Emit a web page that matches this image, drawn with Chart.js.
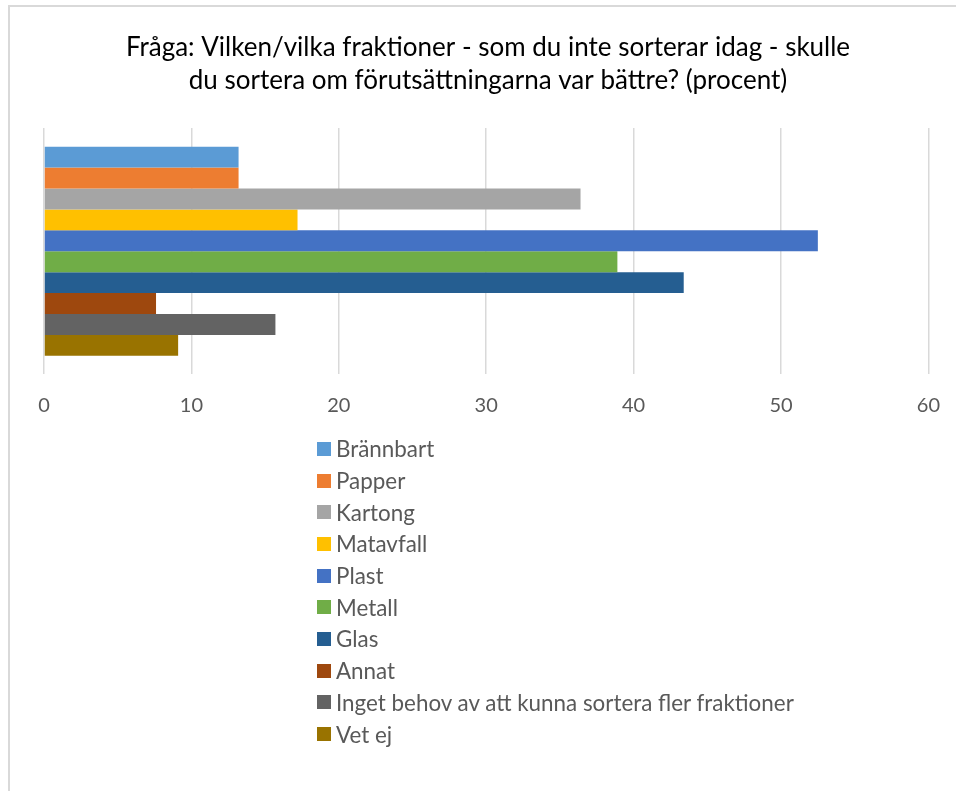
<!DOCTYPE html>
<html>
<head>
<meta charset="utf-8">
<script src="https://cdn.jsdelivr.net/npm/chart.js@4.4.0/dist/chart.umd.min.js"></script>
<style>
  html, body { margin: 0; padding: 0; background: #fff; }
  body { width: 956px; height: 791px; position: relative; overflow: hidden; font-family: Lato, "Noto Sans", sans-serif; }
  #frame { position: absolute; left: 8px; top: 5px; width: 1000px; height: 900px; border-left: 2px solid #d9d9d9; border-top: 2px solid #d9d9d9; box-sizing: border-box; pointer-events: none; }
  #wrap { position: absolute; left: 0; top: 0; width: 956px; height: 791px; }
  #legend { position: absolute; left: 317px; top: 433px; margin: 0; padding: 0; list-style: none; }
  #legend li { display: flex; align-items: center; height: 31.7px; font-size: 22.4px; color: #595959; white-space: nowrap; }
  #legend li span.box { display: inline-block; width: 14px; height: 14px; margin-right: 5px; }
</style>
</head>
<body>
<div id="wrap"><canvas id="c" width="956" height="791"></canvas></div>
<div id="frame"></div>
<ul id="legend"></ul>
<script>
const titleLines = ['Fråga: Vilken/vilka fraktioner - som du inte sorterar idag - skulle', 'du sortera om förutsättningarna var bättre? (procent)'];
const categories = [''];
const seriesNames = ['Brännbart', 'Papper', 'Kartong', 'Matavfall', 'Plast', 'Metall', 'Glas', 'Annat', 'Inget behov av att kunna sortera fler fraktioner', 'Vet ej'];
const seriesValues = [13.2, 13.2, 36.4, 17.2, 52.5, 38.9, 43.4, 7.6, 15.7, 9.1];
const seriesColors = ['#5B9BD5', '#ED7D31', '#A5A5A5', '#FFC000', '#4472C4', '#70AD47', '#255E91', '#9E480E', '#636363', '#997300'];
const xTicks = [0, 10, 20, 30, 40, 50, 60];

const datasets = seriesNames.map((name, i) => ({
  label: name,
  data: [seriesValues[i]],
  backgroundColor: seriesColors[i],
  borderWidth: 0,
  barPercentage: 1.0,
  categoryPercentage: 0.849
}));

const htmlLegend = {
  id: 'htmlLegend',
  afterUpdate(chart) {
    const ul = document.getElementById('legend');
    ul.innerHTML = '';
    chart.options.plugins.legend.labels.generateLabels(chart).forEach(item => {
      const li = document.createElement('li');
      const box = document.createElement('span');
      box.className = 'box';
      box.style.background = item.fillStyle;
      const t = document.createElement('span');
      t.textContent = item.text;
      li.appendChild(box);
      li.appendChild(t);
      ul.appendChild(li);
    });
  }
};

new Chart(document.getElementById('c'), {
  type: 'bar',
  data: { labels: categories, datasets },
  plugins: [htmlLegend],
  options: {
    indexAxis: 'y',
    responsive: false,
    animation: false,
    layout: { padding: { left: 44, right: 24, top: 0, bottom: 354 } },
    plugins: {
      legend: { display: false },
      tooltip: { enabled: false },
      title: {
        display: true,
        text: titleLines,
        color: '#000000',
        font: { family: 'Lato, "Noto Sans", sans-serif', size: 26, weight: 'normal', lineHeight: 1.27 },
        padding: { top: 31, bottom: 31 }
      }
    },
    scales: {
      x: {
        min: 0, max: 60,
        afterBuildTicks(axis) { axis.ticks = xTicks.map(v => ({ value: v })); },
        grid: { color: '#d9d9d9', lineWidth: 1.5, drawTicks: false },
        border: { display: false },
        ticks: { color: '#595959', padding: 16, font: { family: 'Lato, "Noto Sans", sans-serif', size: 20, lineHeight: 1.53 } }
      },
      y: { display: false }
    }
  }
});
</script>
</body>
</html>
